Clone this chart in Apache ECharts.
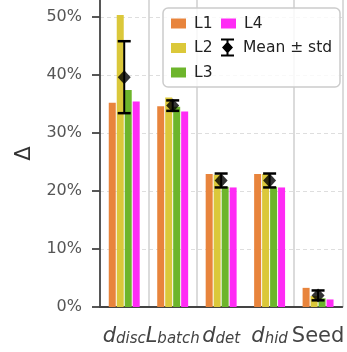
<!DOCTYPE html>
<html>
<head>
<meta charset="utf-8">
<script src="https://cdn.jsdelivr.net/npm/echarts@6/dist/echarts.min.js"></script>
<style>
  html, body { margin: 0; padding: 0; background: #fff; }
  #chart { width: 347px; height: 352px; }
</style>
</head>
<body>
<div id="chart"></div>
<script>
// Relative change (%) per factor, for the four layers
const categories = ['d_disc', 'L_batch', 'd_det', 'd_hid', 'Seed'];
const L1 = [35.2, 34.6, 22.9, 22.9, 3.3];
const L2 = [50.3, 36.1, 22.8, 22.9, 1.9];
const L3 = [37.4, 34.5, 20.7, 20.7, 1.5];
const L4 = [35.4, 33.7, 20.6, 20.6, 1.3];
// Mean and standard deviation across layers
const meanVals = [39.6, 34.7, 21.8, 21.8, 2.0];
const stdVals = [6.2, 0.9, 1.2, 1.2, 0.85];
const yTicks = [0, 10, 20, 30, 40, 50];

const FONT = 'DejaVu Sans';
const colors = { L1: '#E8843C', L2: '#DBC83A', L3: '#6DB52B', L4: '#FF2BF5' };

// "d_disc" -> italic main letter with italic subscript
function mathLabel(name) {
  const parts = name.split('_');
  if (parts.length === 1) return '{n|' + name + '}';
  return '{i|' + parts[0] + '}{s|' + parts[1] + '}';
}

const barBase = {
  type: 'bar',
  barWidth: 7,
  barGap: '14%',
  z: 2
};

const errIcon = 'path://M1 0H14V2H1Z M6.5 0H8.5V18H6.5Z M1 16H14V18H1Z M7.5 3L13 9L7.5 15L2 9Z';
const legendText = { fontFamily: FONT, fontSize: 15.5, color: '#222', lineHeight: 20, padding: [0, 0, 0, 3] };

const chart = echarts.init(document.getElementById('chart'), null, { renderer: 'canvas' });
chart.setOption({
  animation: false,
  backgroundColor: '#fff',
  textStyle: { fontFamily: FONT },
  grid: { left: 100, right: 1.5, top: 0, bottom: 45, containLabel: false },
  xAxis: {
    type: 'category',
    data: categories,
    axisLine: { lineStyle: { color: '#444', width: 1.8 } },
    axisTick: { alignWithLabel: true, length: 6, lineStyle: { color: '#444', width: 1.8 } },
    axisLabel: {
      margin: 14,
      interval: 0,
      color: '#444',
      formatter: mathLabel,
      rich: {
        i: { fontFamily: FONT, fontStyle: 'italic', fontSize: 21, color: '#444', lineHeight: 26, verticalAlign: 'bottom' },
        s: { fontFamily: FONT, fontStyle: 'italic', fontSize: 15, color: '#444', lineHeight: 26, verticalAlign: 'bottom', padding: [7, 0, 0, 0] },
        n: { fontFamily: FONT, fontSize: 21, color: '#444', lineHeight: 26, verticalAlign: 'bottom' }
      }
    },
    splitLine: {
      show: true,
      interval: function (idx) { return idx === 1 || idx === 2 || idx === 4; },
      lineStyle: { color: '#cfcfcf', width: 1.5, type: 'solid' }
    }
  },
  yAxis: {
    type: 'value',
    min: 0,
    max: 52.9,
    interval: 10,
    name: 'Δ',
    nameLocation: 'middle',
    nameRotate: 90,
    nameGap: 64,
    nameTextStyle: { fontFamily: FONT, fontSize: 21, color: '#333' },
    axisLine: { show: true, lineStyle: { color: '#444', width: 1.8 } },
    axisTick: { show: true, length: 8, customValues: yTicks, lineStyle: { color: '#444', width: 1.8 } },
    axisLabel: {
      margin: 18,
      customValues: yTicks,
      color: '#555',
      fontFamily: FONT,
      fontSize: 16,
      formatter: function (v) { return v + '%'; }
    },
    splitLine: { show: true, lineStyle: { color: '#dedede', width: 1, type: [4, 3] } }
  },
  graphic: {
    elements: [{
      type: 'rect',
      z: 3,
      silent: true,
      shape: { x: 163, y: 8, width: 177, height: 79, r: 5 },
      style: { fill: 'rgba(255,255,255,0.82)', stroke: '#cccccc', lineWidth: 1.5 }
    }]
  },
  legend: [
    {
      orient: 'vertical', left: 171, top: 13.5, padding: 0, z: 5,
      itemWidth: 15, itemHeight: 10, itemGap: 4.5,
      textStyle: legendText,
      data: [{ name: 'L1', icon: 'rect' }, { name: 'L2', icon: 'rect' }, { name: 'L3', icon: 'rect' }]
    },
    {
      orient: 'vertical', left: 221, top: 13.5, padding: 0, z: 5,
      itemWidth: 15, itemHeight: 10,
      textStyle: legendText,
      data: [{ name: 'L4', icon: 'rect' }]
    },
    {
      orient: 'vertical', left: 221, top: 37.5, padding: 0, z: 5,
      itemWidth: 15, itemHeight: 18,
      textStyle: legendText,
      data: [{ name: 'Mean ± std', icon: errIcon, itemStyle: { color: '#000' } }]
    }
  ],
  series: [
    Object.assign({}, barBase, { name: 'L1', data: L1, itemStyle: { color: colors.L1 } }),
    Object.assign({}, barBase, { name: 'L2', data: L2, itemStyle: { color: colors.L2 } }),
    Object.assign({}, barBase, { name: 'L3', data: L3, itemStyle: { color: colors.L3 } }),
    Object.assign({}, barBase, { name: 'L4', data: L4, itemStyle: { color: colors.L4 } }),
    {
      name: 'Mean ± std',
      type: 'custom',
      z: 4,
      itemStyle: { color: '#000' },
      data: categories.map(function (c, i) { return [i, meanVals[i], stdVals[i]]; }),
      encode: { x: 0, y: 1 },
      renderItem: function (params, api) {
        const x = api.value(0), m = api.value(1), s = api.value(2);
        const top = api.coord([x, m + s]);
        const bot = api.coord([x, m - s]);
        const hw = 6.5;
        return {
          type: 'group',
          children: [
            { type: 'line', shape: { x1: top[0], y1: top[1], x2: bot[0], y2: bot[1] }, style: { stroke: '#000', lineWidth: 2 } },
            { type: 'line', shape: { x1: top[0] - hw, y1: top[1], x2: top[0] + hw, y2: top[1] }, style: { stroke: '#000', lineWidth: 2.5 } },
            { type: 'line', shape: { x1: bot[0] - hw, y1: bot[1], x2: bot[0] + hw, y2: bot[1] }, style: { stroke: '#000', lineWidth: 2.5 } }
          ]
        };
      }
    },
    {
      name: 'Mean ± std',
      type: 'scatter',
      z: 5,
      symbol: 'diamond',
      symbolSize: [13, 14],
      itemStyle: { color: '#000' },
      data: meanVals
    }
  ]
});
</script>
</body>
</html>
